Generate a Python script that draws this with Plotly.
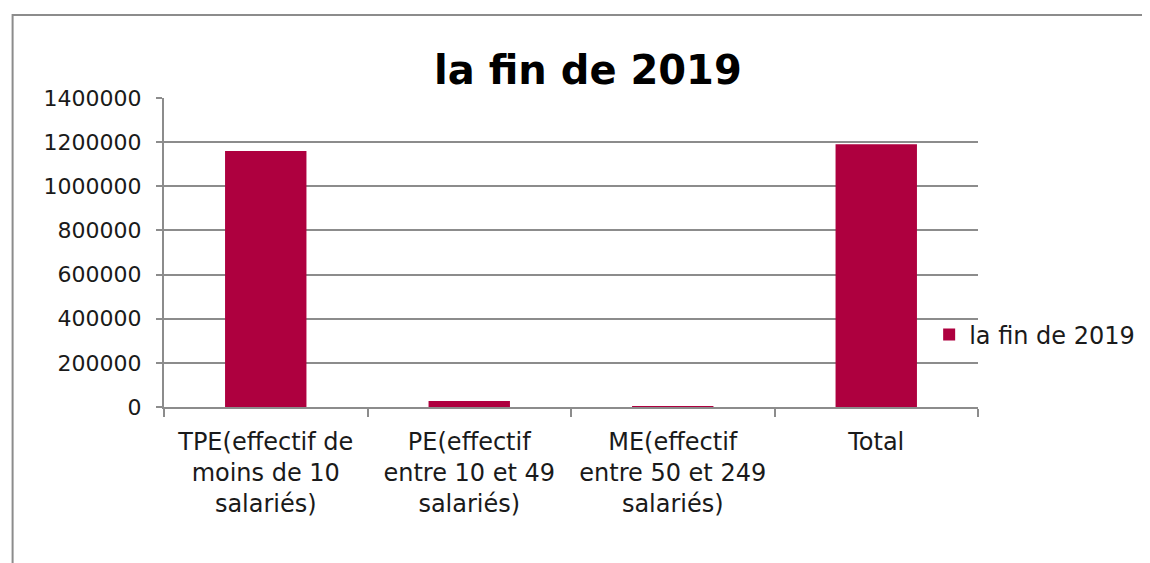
import plotly.graph_objects as go

categories = [
    "TPE(effectif de<br>moins de 10<br>salariés)",
    "PE(effectif<br>entre 10 et 49<br>salariés)",
    "ME(effectif<br>entre 50 et 249<br>salariés)",
    "Total",
]
values = [1160000, 27000, 3000, 1190000]
series_name = "la fin de 2019"
y_ticks = [0, 200000, 400000, 600000, 800000, 1000000, 1200000, 1400000]

bar_color = "#AE003F"
axis_gray = "#8c8c8c"
font_family = "'DejaVu Sans', sans-serif"

fig = go.Figure(
    go.Bar(
        x=categories,
        y=values,
        name=series_name,
        marker=dict(color=bar_color, line=dict(width=0)),
        showlegend=True,
    )
)

# outer chart border (runs off the right and bottom edges)
fig.add_shape(
    type="rect", xref="paper", yref="paper",
    x0=-0.186, x1=1.25, y0=-0.6, y1=1.2686,
    line=dict(color="#8c8c8c", width=2), fillcolor="rgba(0,0,0,0)",
    layer="below",
)

fig.update_layout(
    width=1150,
    height=563,
    paper_bgcolor="white",
    plot_bgcolor="white",
    margin=dict(l=156, r=180, t=90, b=164),
    bargap=0.6,
    font=dict(family=font_family, color="#1a1a1a", size=22),
    title=dict(
        text="<b>la fin de 2019</b>",
        x=0.5043, xanchor="center", xref="container",
        y=0.89, yanchor="middle", yref="container",
        font=dict(size=40, color="#000000", family=font_family),
    ),
    legend=dict(
        x=0.94, xanchor="left", y=0.233, yanchor="middle",
        font=dict(size=24),
        bgcolor="rgba(0,0,0,0)",
    ),
    xaxis=dict(
        showline=True, linecolor=axis_gray, linewidth=2,
        ticks="outside", tickson="boundaries", ticklen=8, tickcolor=axis_gray,
        tickwidth=2, showgrid=False,
        ticklabelstandoff=12,
        tickfont=dict(size=24),
    ),
    yaxis=dict(
        range=[0, 1400000],
        tickvals=y_ticks,
        ticktext=[str(v) for v in y_ticks],
        showline=True, linecolor=axis_gray, linewidth=2,
        ticks="outside", ticklen=6, tickcolor=axis_gray, tickwidth=2,
        ticklabelstandoff=10,
        showgrid=True, gridcolor=axis_gray, gridwidth=1.5,
        zeroline=False,
        tickfont=dict(size=22),
    ),
)

fig.write_html("out.html")
